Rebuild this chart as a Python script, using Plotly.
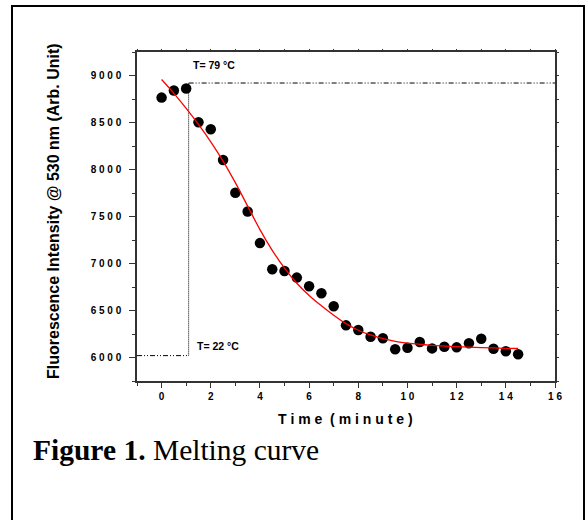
import plotly.graph_objects as go

# ---- data ----
time_min = [0, 0.5, 1, 1.5, 2, 2.5, 3, 3.5, 4, 4.5, 5, 5.5, 6, 6.5, 7, 7.5,
            8, 8.5, 9, 9.5, 10, 10.5, 11, 11.5, 12, 12.5, 13, 13.5, 14, 14.5]
intensity = [8765, 8840, 8861, 8502, 8428, 8101, 7753, 7553, 7217, 6939,
             6921, 6850, 6758, 6683, 6545, 6342, 6292, 6221, 6204, 6087,
             6104, 6164, 6097, 6114, 6108, 6151, 6200, 6093, 6066, 6034]

fit_t = [0, 0.5, 1, 1.5, 2, 2.5, 3, 3.5, 4, 4.5, 5, 5.5, 6, 6.5, 7, 7.5,
         8, 8.5, 9, 9.5, 10, 11, 12, 13, 14, 14.5]
fit_v = [8957, 8810, 8650, 8480, 8295, 8090, 7860, 7610, 7360, 7140, 6950,
         6790, 6660, 6550, 6450, 6360, 6290, 6240, 6200, 6172, 6153, 6130,
         6116, 6105, 6098, 6096]

# temperature profile (step)
low_t = [-1, 1.1]
low_level = [6020, 6020]
step_t = [1.1, 1.1]
step_level = [6020, 8920]
high_t = [1.1, 16]
high_level = [8920, 8920]

temp_labels = ["T= 79 °C", "T= 22 °C"]
temp_label_t = [1.2, 1.34]
temp_label_v = [9117, 6122]

y_ticks = [6000, 6500, 7000, 7500, 8000, 8500, 9000]
y_ticktext = ["6 0 0 0", "6 5 0 0", "7 0 0 0", "7 5 0 0", "8 0 0 0", "8 5 0 0", "9 0 0 0"]
x_ticks = [0, 2, 4, 6, 8, 10, 12, 14, 16]
x_ticktext = ["0", "2", "4", "6", "8", "1 0", "1 2", "1 4", "1 6"]

x_title = "T i m e  ( m i n u t e )"
y_title = "Fluorescence Intensity @ 530 nm (Arb. Unit)"
caption = "<b>Figure 1.</b> Melting curve"

W, H = 587, 520
ML, MR, MT, MB = 137, 32, 52, 139
PW, PH = W - ML - MR, H - MT - MB

def px_x(px):
    return (px - ML) / PW

def px_y(py):
    return (H - MB - py) / PH

fig = go.Figure()
dashdd = "5px,2px,1px,2px,1px,2px"
fig.add_trace(go.Scatter(x=low_t, y=low_level, mode="lines",
                         line=dict(color="black", width=1, dash=dashdd),
                         showlegend=False, hoverinfo="skip"))
fig.add_trace(go.Scatter(x=step_t, y=step_level, mode="lines",
                         line=dict(color="black", width=1, dash="1px,1px"),
                         showlegend=False, hoverinfo="skip"))
fig.add_trace(go.Scatter(x=high_t, y=high_level, mode="lines",
                         line=dict(color="black", width=1, dash=dashdd),
                         showlegend=False, hoverinfo="skip"))
fig.add_trace(go.Scatter(x=time_min, y=intensity, mode="markers",
                         marker=dict(color="black", size=10.5, symbol="circle"),
                         showlegend=False))
fig.add_trace(go.Scatter(x=fit_t, y=fit_v, mode="lines",
                         line=dict(color="red", width=1.3, shape="spline", smoothing=0.8),
                         showlegend=False))

tickfont = dict(family="Arial, Liberation Sans", size=10, color="black", weight="bold")
axis_common = dict(showgrid=False, zeroline=False, linecolor="#333333", linewidth=1.5,
                   ticks="outside", tickcolor="#333333", tickwidth=1.2, mirror=True)

fig.update_layout(
    width=W, height=H,
    margin=dict(l=ML, r=MR, t=MT, b=MB, pad=0),
    paper_bgcolor="white", plot_bgcolor="white",
    xaxis=dict(range=[-1, 16], tickmode="array", tickvals=x_ticks, ticktext=x_ticktext,
               ticklen=5, tickfont=tickfont,
               minor=dict(tickmode="linear", tick0=-1, dtick=1, ticklen=3,
                          tickcolor="#333333", tickwidth=1.2, ticks="outside"),
               **axis_common),
    yaxis=dict(range=[5750, 9250], tickmode="array", tickvals=y_ticks, ticktext=y_ticktext,
               ticklen=6, tickfont=tickfont, ticklabelstandoff=6,
               minor=dict(tickmode="linear", tick0=5750, dtick=250, ticklen=3,
                          tickcolor="#333333", tickwidth=1.2, ticks="outside"),
               **axis_common),
    xaxis2=dict(range=[-1, 16], overlaying="x", side="top", anchor="y",
                showgrid=False, zeroline=False, showticklabels=False,
                ticks="outside", ticklen=2, tickcolor="#333333", tickwidth=1.2,
                tickmode="linear", tick0=-1, dtick=1, showline=False),
    yaxis2=dict(range=[5750, 9250], overlaying="y", side="right", anchor="x",
                showgrid=False, zeroline=False, showticklabels=False,
                ticks="outside", ticklen=3, tickcolor="#333333", tickwidth=1.2,
                tickmode="linear", tick0=5750, dtick=250, showline=False),
    showlegend=False,
)

# invisible trace to make overlay axes render
fig.add_trace(go.Scatter(x=[None], y=[None], xaxis="x2", yaxis="y2", showlegend=False,
                         hoverinfo="skip"))

for txt, tx, ty in zip(temp_labels, temp_label_t, temp_label_v):
    fig.add_annotation(x=tx, y=ty, xref="x", yref="y", text=txt, showarrow=False,
                       xanchor="left", yanchor="middle",
                       font=dict(family="Arial, Liberation Sans", size=10.5, color="black",
                                 weight="bold"))

fig.add_annotation(x=px_x(345), y=px_y(419), xref="paper", yref="paper", text=x_title,
                   showarrow=False, xanchor="center", yanchor="middle",
                   font=dict(family="Arial, Liberation Sans", size=14, color="black",
                             weight="bold"))
fig.add_annotation(x=px_x(53), y=px_y(211), xref="paper", yref="paper", text=y_title,
                   showarrow=False, xanchor="center", yanchor="middle", textangle=-90,
                   font=dict(family="Arial, Liberation Sans", size=16, color="black",
                             weight="bold"))
fig.add_annotation(x=px_x(31), y=px_y(450), xref="paper", yref="paper", text=caption,
                   showarrow=False, xanchor="left", yanchor="middle",
                   font=dict(family="Times New Roman, Liberation Serif", size=29.5,
                             color="black"))

fig.add_shape(type="rect", xref="paper", yref="paper",
              x0=px_x(12), x1=px_x(584), y0=px_y(530), y1=px_y(6),
              line=dict(color="black", width=2), fillcolor="rgba(0,0,0,0)")

fig.write_html("out.html")
